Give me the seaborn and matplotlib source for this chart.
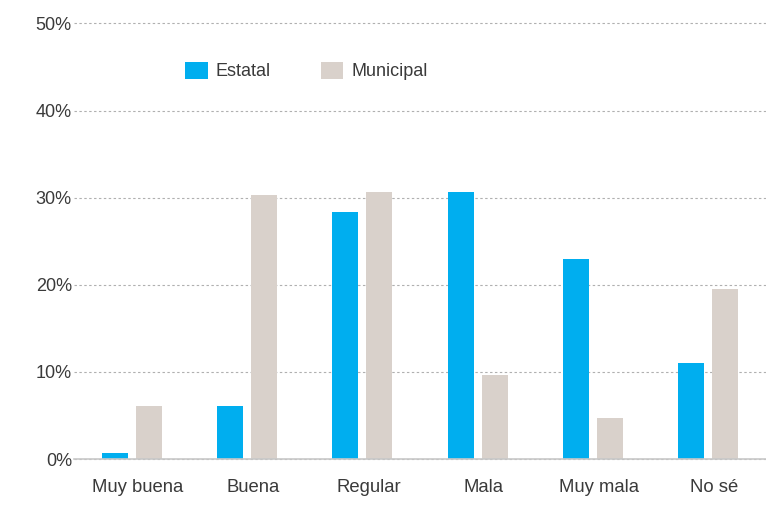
import matplotlib
matplotlib.use("Agg")
import matplotlib.pyplot as plt
import matplotlib.transforms as mtransforms
import pandas as pd
import seaborn as sns

categories = ["Muy buena", "Buena", "Regular", "Mala", "Muy mala", "No sé"]
estatal = [0.7, 6.1, 28.4, 30.7, 23.0, 11.0]
municipal = [6.1, 30.3, 30.6, 9.6, 4.7, 19.5]
series = ["Estatal", "Municipal"]
colors = ["#00AEEF", "#D9D1CB"]
yticks = [0, 10, 20, 30, 40, 50]

df = pd.DataFrame({
    "categoria": categories * 2,
    "valor": estatal + municipal,
    "serie": [series[0]] * len(categories) + [series[1]] * len(categories),
})

sns.set_theme(style="white")
plt.rcParams["font.family"] = ["Liberation Sans", "DejaVu Sans"]
text_color = "#3a3a3a"

fig = plt.figure(figsize=(7.66, 5.05), dpi=100)
ax = fig.add_axes([74 / 766, 1 - 459 / 505, 1 - 74 / 766, (459 - 23.5) / 505])

sns.barplot(
    data=df, x="categoria", y="valor", hue="serie", order=categories,
    hue_order=series, palette=colors, width=0.59, gap=0.234,
    saturation=1, edgecolor="none", ax=ax, legend=True, zorder=3,
)

ax.set_xlim(-0.5, len(categories) - 0.5)
ax.set_ylim(0, 50)
ax.set_yticks(yticks)
ax.set_yticklabels([f"{v}%" for v in yticks])
ax.yaxis.grid(True, color="#b0b0b0", linestyle=(0, (2.2, 2.2)), linewidth=0.8, zorder=0)
ax.xaxis.grid(False)
ax.set_axisbelow(True)
for gl in ax.get_ygridlines():
    gl.set_clip_on(False)
for s in ["top", "right", "left"]:
    ax.spines[s].set_visible(False)
ax.spines["bottom"].set_color("#c8c8c8")
ax.spines["bottom"].set_linewidth(1.2)
ax.spines["bottom"].set_zorder(4)

ax.tick_params(axis="x", length=0, pad=14.5, labelsize=13.3, labelcolor=text_color)
ax.tick_params(axis="y", length=0, pad=1.5, labelsize=13, labelcolor=text_color)
ax.set_xlabel("")
ax.set_ylabel("")

shift = mtransforms.ScaledTranslation(6 / 100, 0, fig.dpi_scale_trans)
for lbl in ax.get_xticklabels():
    lbl.set_transform(lbl.get_transform() + shift)

handles, labels = ax.get_legend_handles_labels()
ax.legend(
    handles, labels, loc="center left", bbox_to_anchor=(176 / 766, 1 - 71 / 505),
    bbox_transform=fig.transFigure, ncol=2, frameon=False, fontsize=13,
    handlelength=1.25, handleheight=1.1, handletextpad=0.45,
    columnspacing=2.75, borderpad=0, labelcolor=text_color,
)

fig.savefig("out.png", dpi=100)
